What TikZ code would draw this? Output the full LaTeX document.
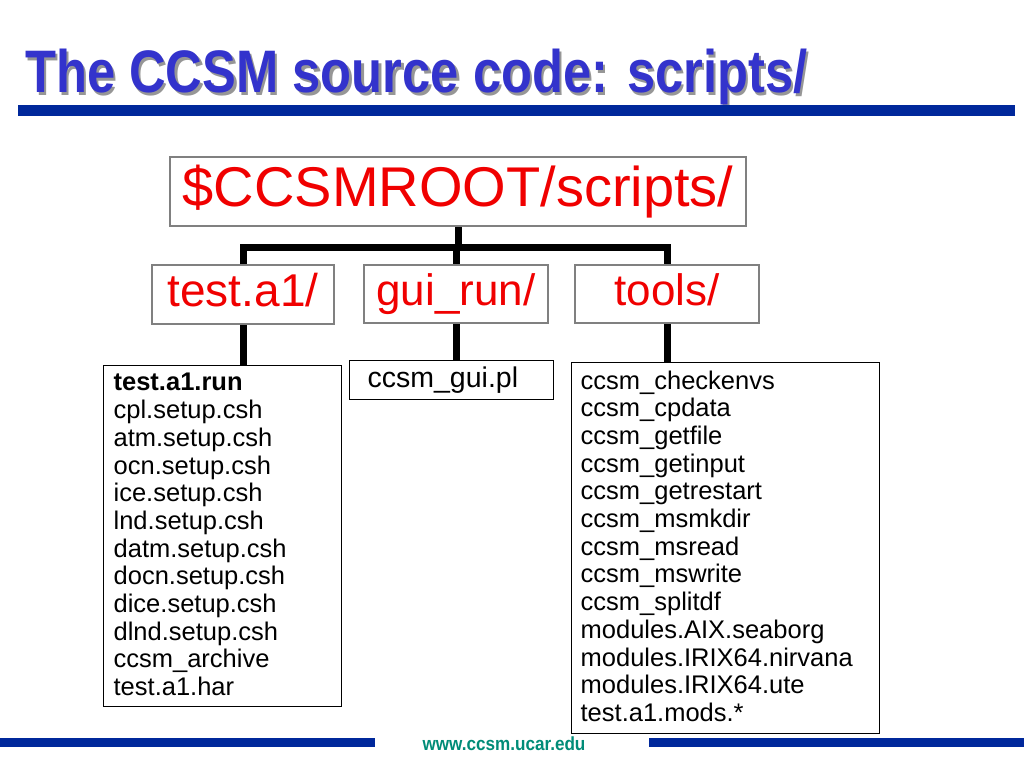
\documentclass[tikz,border=0pt]{standalone}
\usepackage{fontspec}
\setmainfont{Liberation Sans}
\usepackage{graphicx}
\definecolor{titleblue}{RGB}{51,51,204}
\definecolor{barblue}{RGB}{0,40,155}
\definecolor{shadowgray}{RGB}{150,150,150}
\definecolor{boxgray}{RGB}{128,128,128}
\definecolor{dirred}{RGB}{240,0,0}
\definecolor{teal}{RGB}{0,140,120}
\newcommand{\shadowtext}[1]{\rlap{\raisebox{-3pt}{\hspace*{3pt}\textcolor{shadowgray}{#1}}}#1}
\newcommand{\dirlabel}[1]{\raisebox{-2.5pt}{#1\vphantom{g/}}}
\begin{document}
\begin{tikzpicture}[x=1pt,y=-1pt,
  dirbox/.style={draw=boxgray,line width=2pt,fill=white,inner sep=0pt,text=dirred},
  listbox/.style={draw=black,line width=1.3pt,fill=white,inner sep=0pt,align=left,anchor=north west,
    font=\fontsize{25.5}{27.7}\selectfont},
  conn/.style={line width=7pt,line join=miter,line cap=butt}]
\useasboundingbox (0,0) rectangle (1024,768);
\fill[white] (0,0) rectangle (1024,768);
% title
\node[anchor=base west,inner sep=0pt,text=titleblue,font=\bfseries\fontsize{60}{64}\selectfont] (title) at (25,92)
  {\scalebox{0.845}[1]{\shadowtext{The CCSM source code: scripts/}}};
\fill[barblue] (18,105) rectangle (1015,116);
% footer
\fill[barblue] (0,738) rectangle (375,747);
\fill[barblue] (649,738) rectangle (1024,747);
\node[inner sep=0pt,text=teal,font=\bfseries\fontsize{19}{20}\selectfont] (url) at (504,744)
  {\scalebox{0.9}[1]{www.ccsm.ucar.edu}};
\coordinate (bus) at (457,247);
% directory boxes
\node[dirbox,minimum width=576,minimum height=69,font=\fontsize{56}{60}\selectfont] (root) at (458,191.5) {\$CCSMROOT/scripts/};
\node[dirbox,minimum width=182,minimum height=59,font=\fontsize{46}{50}\selectfont] (t1) at (243,294.5) {\dirlabel{test.a1/}};
\node[dirbox,minimum width=184,minimum height=58,font=\fontsize{44}{50}\selectfont] (gr) at (456,294) {\dirlabel{gui\_run/}};
\node[dirbox,minimum width=184,minimum height=58,font=\fontsize{44}{50}\selectfont] (tl) at (667,294) {\dirlabel{tools/}};
% file lists
\node[listbox,minimum width=238,minimum height=341,text width=218] (l1) at (103,365) {%
\textbf{test.a1.run}\\
cpl.setup.csh\\
atm.setup.csh\\
ocn.setup.csh\\
ice.setup.csh\\
lnd.setup.csh\\
datm.setup.csh\\
docn.setup.csh\\
dice.setup.csh\\
dlnd.setup.csh\\
ccsm\_archive\\
test.a1.har\vspace*{3pt}};
\node[listbox,minimum width=204,minimum height=39,text width=190,font=\fontsize{28.5}{30}\selectfont] (l2) at (349,360) {\hspace*{11pt}ccsm\_gui.pl};
\node[listbox,minimum width=308,minimum height=371,text width=290] (l3) at (571,362) {%
ccsm\_checkenvs\\
ccsm\_cpdata\\
ccsm\_getfile\\
ccsm\_getinput\\
ccsm\_getrestart\\
ccsm\_msmkdir\\
ccsm\_msread\\
ccsm\_mswrite\\
ccsm\_splitdf\\
modules.AIX.seaborg\\
modules.IRIX64.nirvana\\
modules.IRIX64.ute\\
test.a1.mods.*\vspace*{4pt}};
% connectors
\draw[conn] (root.south) -- (root.south |- bus);
\draw[conn] (t1.north) -- (t1.north |- bus) -- (tl.north |- bus) -- (tl.north);
\draw[conn] (gr.north |- bus) -- (gr.north);
\draw[conn] (t1.south) -- (t1.south |- l1.north);
\draw[conn] (gr.south) -- (gr.south |- l2.north);
\draw[conn] (tl.south) -- (tl.south |- l3.north);
\end{tikzpicture}
\end{document}
